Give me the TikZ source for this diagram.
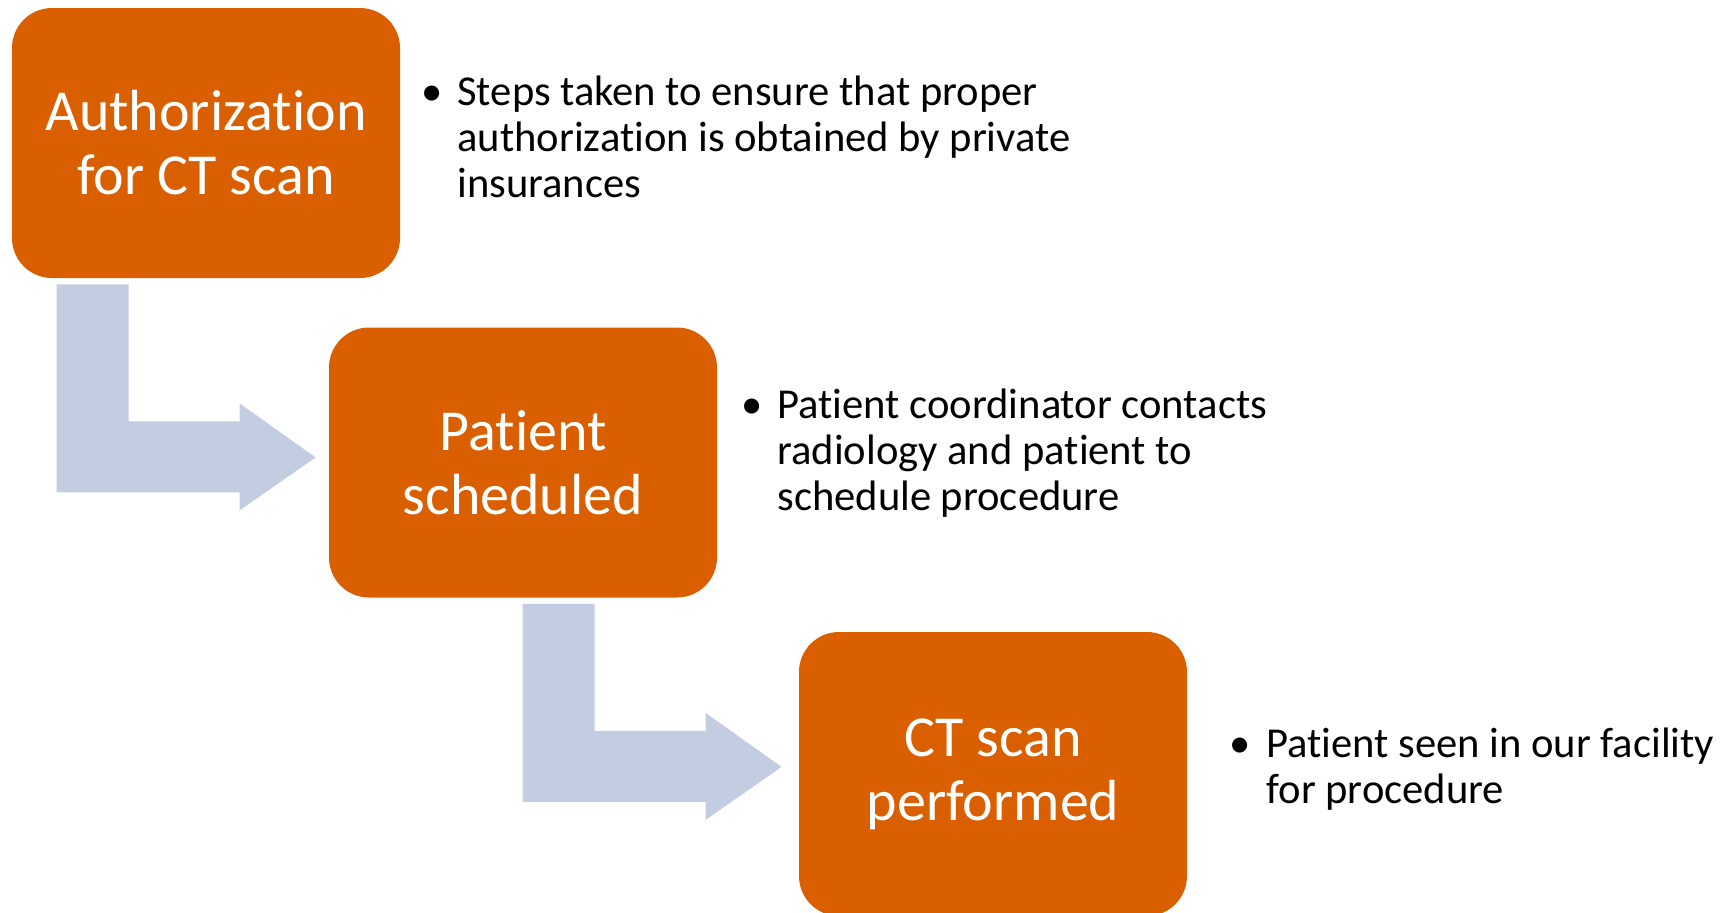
\documentclass[tikz,border=0pt]{standalone}
\usepackage{fontspec}
\setmainfont[Ligatures=NoCommon]{Carlito}
\usepackage{tikz}
\usetikzlibrary{positioning,calc}
\definecolor{stepOrange}{RGB}{217, 95, 0}
\definecolor{arrowBlue}{RGB}{195, 205, 226}
\tikzset{myBox/.style={fill=stepOrange, rounded corners=20pt, minimum width=194pt, minimum height=135pt, inner sep=0pt, text=white, align=center, font=\fontsize{29}{32}\selectfont}}
\tikzset{myNote/.style={anchor=base west, inner sep=0pt, align=left, font=\fontsize{21.3}{23}\selectfont}}
\tikzset{myDot/.style={anchor=base, inner sep=0pt, font=\fontsize{21.3}{23}\selectfont}}
\tikzset{myArrow/.style={fill=arrowBlue}}
% bent block arrow: #1 node it leaves, #2 offset from its left side, #3 drop before the turn
\newcommand{\bentArrow}[3]{%
	\fill[myArrow, shift={($(#1.south west)+(#2,6)$)}] (0,0) -- (72,0) -- (72,#3) -- (183,#3) -- (183,#3-18) -- (259,#3+36) -- (183,#3+89) -- (183,#3+71) -- (0,#3+71) -- cycle;}

\begin{document}
\begin{tikzpicture}[x=0.5pt, y=-0.5pt]
	\useasboundingbox (0,0) rectangle (1731,912);
	
	\node[myBox] (auth) at (206,143) {Authorization\\for CT scan};
	\node[myBox] (sched) at (523,462.5) {Patient\\scheduled};
	\node[myBox, minimum height=142pt] (scan) at (993,774) {CT scan\\performed};
	
	\bentArrow{auth}{45}{137}
	\bentArrow{sched}{194}{127}
	
	% notes sit on the baseline of their last line
	\node[myNote] (note1) at (457,197) {Steps taken to ensure that proper\\authorization is obtained by private\\insurances};
	\node[myNote] (note2) at (777,510) {Patient coordinator contacts\\radiology and patient to\\schedule procedure};
	\node[myNote] (note3) at (1266,803) {Patient seen in our facility\\for procedure};
	\node[myDot] (dot1) at ([xshift=-12.5pt, yshift=46pt]note1.base west) {•};
	\node[myDot] (dot2) at ([xshift=-12.5pt, yshift=46pt]note2.base west) {•};
	\node[myDot] (dot3) at ([xshift=-13pt, yshift=23pt]note3.base west) {•};

\end{tikzpicture}
\end{document}
